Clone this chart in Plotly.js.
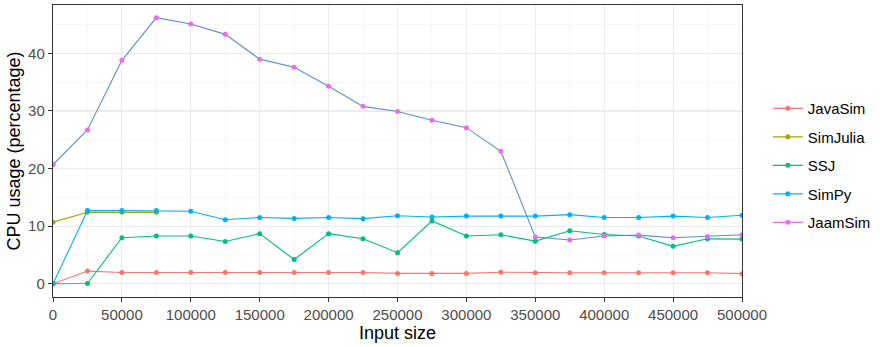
<!DOCTYPE html>
<html>
<head>
<meta charset="utf-8">
<script src="https://cdn.plot.ly/plotly-3.0.1.min.js"></script>
<style>html,body{margin:0;padding:0;background:#fff}#chart{width:880px;height:347px}</style>
</head>
<body>
<div id="chart"></div>
<script>
const inputSize = [0,25000,50000,75000,100000,125000,150000,175000,200000,225000,250000,275000,300000,325000,350000,375000,400000,425000,450000,475000,500000];
const javaSim = [0,2.2,1.95,1.95,1.95,1.95,1.95,1.95,1.95,1.95,1.8,1.8,1.8,2.0,1.9,1.9,1.9,1.9,1.9,1.9,1.75];
const simJuliaX = [0,25000,50000,75000];
const simJulia = [10.7,12.4,12.4,12.4];
const ssj = [0,0.05,8.0,8.3,8.3,7.35,8.7,4.2,8.7,7.8,5.4,10.9,8.3,8.5,7.4,9.2,8.55,8.3,6.5,7.8,7.75];
const simPy = [0,12.7,12.7,12.7,12.6,11.1,11.5,11.35,11.5,11.3,11.8,11.6,11.75,11.75,11.75,12.0,11.5,11.5,11.75,11.5,11.9];
const jaamSim = [20.7,26.7,38.8,46.2,45.1,43.3,39.0,37.6,34.3,30.8,29.9,28.4,27.1,23.0,8.1,7.6,8.3,8.45,8.0,8.2,8.5];
const xTicks = [0,50000,100000,150000,200000,250000,300000,350000,400000,450000,500000];
const yTicks = [0,10,20,30,40];

const colors = {JavaSim:'#F8766D', SimJulia:'#A3A500', SSJ:'#00BF7D', SimPy:'#00B0F6', JaamSim:'#E76BF3'};
const jaamLine = '#5A8FC8';

function tr(name, x, y, color){
  return {x:x, y:y, name:name, type:'scatter', mode:'lines+markers', legendgroup:name,
    line:{color:color, width:1.1}, marker:{color:color, size:5}, hoverinfo:'x+y'};
}
const traces = [
  tr('JavaSim', inputSize, javaSim, colors.JavaSim),
  tr('SimJulia', simJuliaX, simJulia, colors.SimJulia),
  tr('SSJ', inputSize, ssj, colors.SSJ),
  tr('SimPy', inputSize, simPy, colors.SimPy),
  tr('JaamSim', inputSize.slice(0,1), jaamSim.slice(0,1), colors.JaamSim),
  {x:inputSize, y:jaamSim, type:'scatter', mode:'lines', showlegend:false, legendgroup:'JaamSim',
    line:{color:jaamLine, width:1.1}},
  {x:inputSize, y:jaamSim, type:'scatter', mode:'markers', showlegend:false, legendgroup:'JaamSim',
    marker:{color:colors.JaamSim, size:5}}
];

const font = 'Liberation Sans, Arial, sans-serif';
const layout = {
  width:880, height:347,
  margin:{l:53, r:137, t:5, b:50},
  paper_bgcolor:'#fff', plot_bgcolor:'#fff',
  font:{family:font, color:'#000'},
  showlegend:true,
  legend:{x:1.036, xanchor:'left', y:0.45, yanchor:'middle', traceorder:'grouped', tracegroupgap:6,
    font:{family:font, size:15, color:'#000'}, bgcolor:'rgba(0,0,0,0)'},
  xaxis:{range:[0,500000], tickvals:xTicks, ticktext:xTicks.map(String),
    showgrid:true, gridcolor:'#EBEBEB', gridwidth:1.1, zeroline:false,
    minor:{dtick:25000, tick0:0, showgrid:true, gridcolor:'#F2F2F2', gridwidth:0.6},
    showline:true, mirror:true, linecolor:'#333333', linewidth:1.2,
    ticks:'outside', ticklen:4, tickcolor:'#333333', tickwidth:1,
    tickfont:{family:font, size:15, color:'#4D4D4D'},
    title:{text:'Input size', font:{family:font, size:18, color:'#000'}, standoff:0}},
  yaxis:{range:[-2.3,48.4], tickvals:yTicks, ticktext:yTicks.map(String),
    showgrid:true, gridcolor:'#EBEBEB', gridwidth:1.1, zeroline:false,
    minor:{dtick:5, tick0:0, showgrid:true, gridcolor:'#F2F2F2', gridwidth:0.6},
    showline:true, mirror:true, linecolor:'#333333', linewidth:1.2,
    ticks:'outside', ticklen:4, tickcolor:'#333333', tickwidth:1,
    tickfont:{family:font, size:15, color:'#4D4D4D'},
    title:{text:'CPU usage (percentage)', font:{family:font, size:18, color:'#000'}, standoff:2}}
};
Plotly.newPlot('chart', traces, layout, {displayModeBar:false, staticPlot:true});
</script>
</body>
</html>
